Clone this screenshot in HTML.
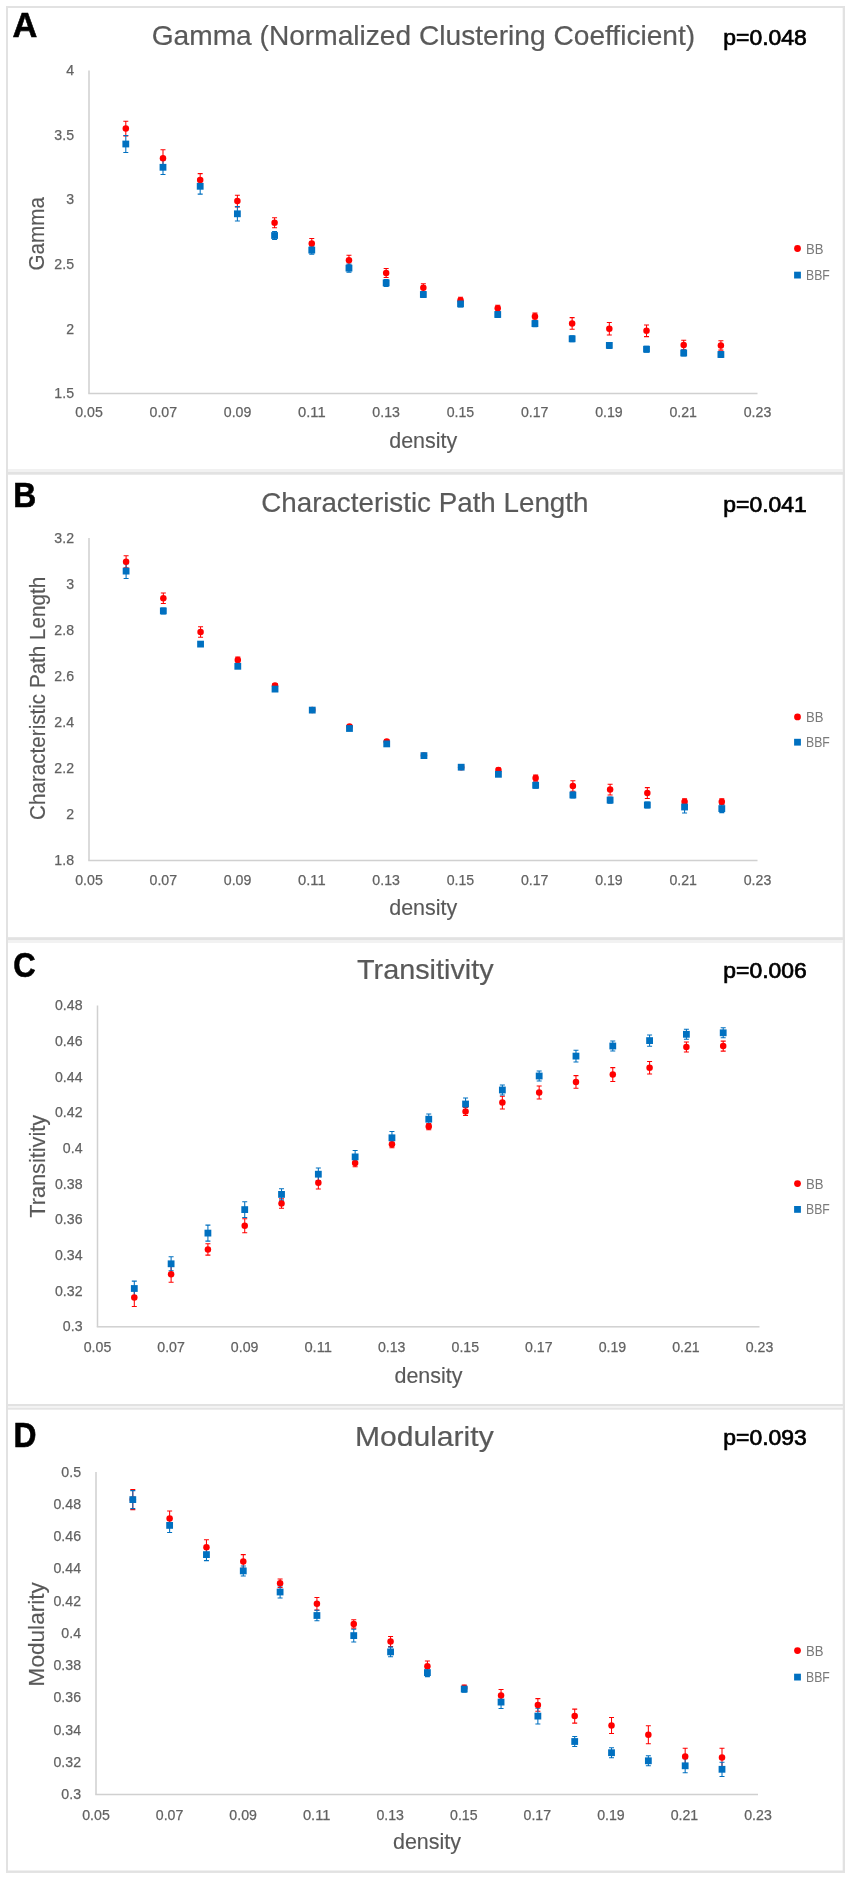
<!DOCTYPE html>
<html><head><meta charset="utf-8"><title>Figure</title>
<style>
html,body{margin:0;padding:0;background:#fff;}
body{width:851px;height:1879px;overflow:hidden;}
svg{display:block;filter:blur(0.45px);}
text{font-family:"Liberation Sans",sans-serif;}
</style></head><body>
<svg width="851" height="1879" viewBox="0 0 851 1879">
<rect x="0" y="0" width="851" height="1879" fill="#fff"/>
<rect x="6" y="6" width="2" height="1866.5" fill="#e2e2e2"/>
<rect x="842.7" y="6" width="2.3" height="1866.5" fill="#e2e2e2"/>
<rect x="6" y="6" width="839" height="2" fill="#e2e2e2"/>
<rect x="6" y="1870.5" width="839" height="2.4" fill="#e2e2e2"/>
<rect x="8" y="469" width="835" height="3" fill="#f1f1f1"/>
<rect x="8" y="472" width="835" height="2.7" fill="#e2e2e2"/>
<rect x="8" y="937.2" width="835" height="2.8" fill="#e2e2e2"/>
<rect x="8" y="940" width="835" height="3" fill="#f2f2f2"/>
<rect x="8" y="1404" width="835" height="2" fill="#e2e2e2"/>
<rect x="8" y="1406" width="835" height="1.8" fill="#f3f3f3"/>
<rect x="8" y="1407.8" width="835" height="1.9" fill="#e4e4e4"/>
<text transform="translate(12.5,37) scale(1.0,1)" x="0" y="0" font-size="34.4" font-weight="bold" fill="#000" stroke="#000" stroke-width="0.6">A</text>
<text x="151.7" y="44.6" font-size="28.3" fill="#595959" stroke="#595959" stroke-width="0.2" textLength="543.5" lengthAdjust="spacingAndGlyphs">Gamma (Normalized Clustering Coefficient)</text>
<text x="723.3" y="44.9" font-size="22" font-weight="normal" fill="#000" stroke="#000" stroke-width="0.7" textLength="83.5" lengthAdjust="spacingAndGlyphs">p=0.048</text>
<rect x="88.25" y="70.5" width="1.5" height="323.0" fill="#d0d0d0"/>
<rect x="88.25" y="392.75" width="669.25" height="1.5" fill="#d0d0d0"/>
<text x="74" y="75.1" font-size="15.2" fill="#626262" stroke="#626262" stroke-width="0.25" text-anchor="end" textLength="7.86" lengthAdjust="spacingAndGlyphs">4</text>
<text x="74" y="139.7" font-size="15.2" fill="#626262" stroke="#626262" stroke-width="0.25" text-anchor="end" textLength="19.65" lengthAdjust="spacingAndGlyphs">3.5</text>
<text x="74" y="204.29999999999998" font-size="15.2" fill="#626262" stroke="#626262" stroke-width="0.25" text-anchor="end" textLength="7.86" lengthAdjust="spacingAndGlyphs">3</text>
<text x="74" y="268.90000000000003" font-size="15.2" fill="#626262" stroke="#626262" stroke-width="0.25" text-anchor="end" textLength="19.65" lengthAdjust="spacingAndGlyphs">2.5</text>
<text x="74" y="333.5" font-size="15.2" fill="#626262" stroke="#626262" stroke-width="0.25" text-anchor="end" textLength="7.86" lengthAdjust="spacingAndGlyphs">2</text>
<text x="74" y="398.1" font-size="15.2" fill="#626262" stroke="#626262" stroke-width="0.25" text-anchor="end" textLength="19.65" lengthAdjust="spacingAndGlyphs">1.5</text>
<text x="89.0" y="417.40000000000003" font-size="15.2" fill="#626262" stroke="#626262" stroke-width="0.25" text-anchor="middle" textLength="27.51" lengthAdjust="spacingAndGlyphs">0.05</text>
<text x="163.27777777777777" y="417.40000000000003" font-size="15.2" fill="#626262" stroke="#626262" stroke-width="0.25" text-anchor="middle" textLength="27.51" lengthAdjust="spacingAndGlyphs">0.07</text>
<text x="237.55555555555554" y="417.40000000000003" font-size="15.2" fill="#626262" stroke="#626262" stroke-width="0.25" text-anchor="middle" textLength="27.51" lengthAdjust="spacingAndGlyphs">0.09</text>
<text x="311.8333333333333" y="417.40000000000003" font-size="15.2" fill="#626262" stroke="#626262" stroke-width="0.25" text-anchor="middle" textLength="27.51" lengthAdjust="spacingAndGlyphs">0.11</text>
<text x="386.1111111111111" y="417.40000000000003" font-size="15.2" fill="#626262" stroke="#626262" stroke-width="0.25" text-anchor="middle" textLength="27.51" lengthAdjust="spacingAndGlyphs">0.13</text>
<text x="460.38888888888886" y="417.40000000000003" font-size="15.2" fill="#626262" stroke="#626262" stroke-width="0.25" text-anchor="middle" textLength="27.51" lengthAdjust="spacingAndGlyphs">0.15</text>
<text x="534.6666666666666" y="417.40000000000003" font-size="15.2" fill="#626262" stroke="#626262" stroke-width="0.25" text-anchor="middle" textLength="27.51" lengthAdjust="spacingAndGlyphs">0.17</text>
<text x="608.9444444444443" y="417.40000000000003" font-size="15.2" fill="#626262" stroke="#626262" stroke-width="0.25" text-anchor="middle" textLength="27.51" lengthAdjust="spacingAndGlyphs">0.19</text>
<text x="683.2222222222222" y="417.40000000000003" font-size="15.2" fill="#626262" stroke="#626262" stroke-width="0.25" text-anchor="middle" textLength="27.51" lengthAdjust="spacingAndGlyphs">0.21</text>
<text x="757.5" y="417.40000000000003" font-size="15.2" fill="#626262" stroke="#626262" stroke-width="0.25" text-anchor="middle" textLength="27.51" lengthAdjust="spacingAndGlyphs">0.23</text>
<text x="423.25" y="447.6" font-size="22.8" fill="#595959" stroke="#595959" stroke-width="0.15" text-anchor="middle" textLength="68" lengthAdjust="spacingAndGlyphs">density</text>
<text transform="translate(43.8,233.8) rotate(-90)" x="0" y="0" font-size="22.7" fill="#595959" stroke="#595959" stroke-width="0.15" text-anchor="middle" textLength="73.4" lengthAdjust="spacingAndGlyphs">Gamma</text>
<circle cx="797.5" cy="248.5" r="3.4" fill="#ff0000"/>
<rect x="794.1" y="271.70000000000005" width="6.8" height="6.8" fill="#0070c0"/>
<text x="806" y="253.5" font-size="13.8" fill="#7a7a7a" textLength="17.5" lengthAdjust="spacingAndGlyphs">BB</text>
<text x="806" y="280.1" font-size="13.8" fill="#7a7a7a" textLength="23.8" lengthAdjust="spacingAndGlyphs">BBF</text>
<path d="M125.8 121.19999999999999V136.0M123.3 121.19999999999999H128.3M123.3 136.0H128.3" stroke="#ff0000" stroke-width="1.05" fill="none"/>
<path d="M125.8 135.5V152.5M123.3 135.5H128.3M123.3 152.5H128.3" stroke="#0070c0" stroke-width="1.05" fill="none"/>
<circle cx="125.8" cy="128.6" r="3.25" fill="#ff0000"/>
<rect x="122.39999999999999" y="140.6" width="6.8" height="6.8" fill="#0070c0"/>
<path d="M162.99375 149.7V166.7M160.49375 149.7H165.49375M160.49375 166.7H165.49375" stroke="#ff0000" stroke-width="1.05" fill="none"/>
<path d="M162.99375 160.20000000000002V174.4M160.49375 160.20000000000002H165.49375M160.49375 174.4H165.49375" stroke="#0070c0" stroke-width="1.05" fill="none"/>
<circle cx="162.99375" cy="158.2" r="3.25" fill="#ff0000"/>
<rect x="159.59375" y="163.9" width="6.8" height="6.8" fill="#0070c0"/>
<path d="M200.1875 173.6V186.4M197.6875 173.6H202.6875M197.6875 186.4H202.6875" stroke="#ff0000" stroke-width="1.05" fill="none"/>
<path d="M200.1875 178.5V194.10000000000002M197.6875 178.5H202.6875M197.6875 194.10000000000002H202.6875" stroke="#0070c0" stroke-width="1.05" fill="none"/>
<circle cx="200.1875" cy="180" r="3.25" fill="#ff0000"/>
<rect x="196.7875" y="182.9" width="6.8" height="6.8" fill="#0070c0"/>
<path d="M237.38125000000002 195.2V207.0M234.88125000000002 195.2H239.88125000000002M234.88125000000002 207.0H239.88125000000002" stroke="#ff0000" stroke-width="1.05" fill="none"/>
<path d="M237.38125000000002 206.60000000000002V221.0M234.88125000000002 206.60000000000002H239.88125000000002M234.88125000000002 221.0H239.88125000000002" stroke="#0070c0" stroke-width="1.05" fill="none"/>
<circle cx="237.38125000000002" cy="201.1" r="3.25" fill="#ff0000"/>
<rect x="233.98125000000002" y="210.4" width="6.8" height="6.8" fill="#0070c0"/>
<path d="M274.575 217.8V227.8M272.075 217.8H277.075M272.075 227.8H277.075" stroke="#ff0000" stroke-width="1.05" fill="none"/>
<path d="M274.575 231.5V239.5M272.075 231.5H277.075M272.075 239.5H277.075" stroke="#0070c0" stroke-width="1.05" fill="none"/>
<circle cx="274.575" cy="222.8" r="3.25" fill="#ff0000"/>
<rect x="271.175" y="232.1" width="6.8" height="6.8" fill="#0070c0"/>
<path d="M311.76875 238.4V248.4M309.26875 238.4H314.26875M309.26875 248.4H314.26875" stroke="#ff0000" stroke-width="1.05" fill="none"/>
<path d="M311.76875 246.1V254.1M309.26875 246.1H314.26875M309.26875 254.1H314.26875" stroke="#0070c0" stroke-width="1.05" fill="none"/>
<circle cx="311.76875" cy="243.4" r="3.25" fill="#ff0000"/>
<rect x="308.36875000000003" y="246.7" width="6.8" height="6.8" fill="#0070c0"/>
<path d="M348.96250000000003 255.3V265.3M346.46250000000003 255.3H351.46250000000003M346.46250000000003 265.3H351.46250000000003" stroke="#ff0000" stroke-width="1.05" fill="none"/>
<path d="M348.96250000000003 264.1V272.1M346.46250000000003 264.1H351.46250000000003M346.46250000000003 272.1H351.46250000000003" stroke="#0070c0" stroke-width="1.05" fill="none"/>
<circle cx="348.96250000000003" cy="260.3" r="3.25" fill="#ff0000"/>
<rect x="345.56250000000006" y="264.70000000000005" width="6.8" height="6.8" fill="#0070c0"/>
<path d="M386.15625 268.5V277.5M383.65625 268.5H388.65625M383.65625 277.5H388.65625" stroke="#ff0000" stroke-width="1.05" fill="none"/>
<path d="M386.15625 279.4V286.4M383.65625 279.4H388.65625M383.65625 286.4H388.65625" stroke="#0070c0" stroke-width="1.05" fill="none"/>
<circle cx="386.15625" cy="273" r="3.25" fill="#ff0000"/>
<rect x="382.75625" y="279.5" width="6.8" height="6.8" fill="#0070c0"/>
<path d="M423.35 283.8V291.8M420.85 283.8H425.85M420.85 291.8H425.85" stroke="#ff0000" stroke-width="1.05" fill="none"/>
<path d="M423.35 291.5V297.5M420.85 291.5H425.85M420.85 297.5H425.85" stroke="#0070c0" stroke-width="1.05" fill="none"/>
<circle cx="423.35" cy="287.8" r="3.25" fill="#ff0000"/>
<rect x="419.95000000000005" y="291.1" width="6.8" height="6.8" fill="#0070c0"/>
<path d="M460.54375000000005 297.3V303.3M458.04375000000005 297.3H463.04375000000005M458.04375000000005 303.3H463.04375000000005" stroke="#ff0000" stroke-width="1.05" fill="none"/>
<path d="M460.54375000000005 300.9V306.9M458.04375000000005 300.9H463.04375000000005M458.04375000000005 306.9H463.04375000000005" stroke="#0070c0" stroke-width="1.05" fill="none"/>
<circle cx="460.54375000000005" cy="300.3" r="3.25" fill="#ff0000"/>
<rect x="457.14375000000007" y="300.5" width="6.8" height="6.8" fill="#0070c0"/>
<path d="M497.7375 305.2V311.2M495.2375 305.2H500.2375M495.2375 311.2H500.2375" stroke="#ff0000" stroke-width="1.05" fill="none"/>
<path d="M497.7375 311.5V317.5M495.2375 311.5H500.2375M495.2375 317.5H500.2375" stroke="#0070c0" stroke-width="1.05" fill="none"/>
<circle cx="497.7375" cy="308.2" r="3.25" fill="#ff0000"/>
<rect x="494.33750000000003" y="311.1" width="6.8" height="6.8" fill="#0070c0"/>
<path d="M534.93125 313.1V320.1M532.43125 313.1H537.43125M532.43125 320.1H537.43125" stroke="#ff0000" stroke-width="1.05" fill="none"/>
<path d="M534.93125 320.6V326.6M532.43125 320.6H537.43125M532.43125 326.6H537.43125" stroke="#0070c0" stroke-width="1.05" fill="none"/>
<circle cx="534.93125" cy="316.6" r="3.25" fill="#ff0000"/>
<rect x="531.53125" y="320.20000000000005" width="6.8" height="6.8" fill="#0070c0"/>
<path d="M572.125 317.59999999999997V329.2M569.625 317.59999999999997H574.625M569.625 329.2H574.625" stroke="#ff0000" stroke-width="1.05" fill="none"/>
<path d="M572.125 335.8V341.8M569.625 335.8H574.625M569.625 341.8H574.625" stroke="#0070c0" stroke-width="1.05" fill="none"/>
<circle cx="572.125" cy="323.4" r="3.25" fill="#ff0000"/>
<rect x="568.725" y="335.40000000000003" width="6.8" height="6.8" fill="#0070c0"/>
<path d="M609.31875 322.4V335.0M606.81875 322.4H611.81875M606.81875 335.0H611.81875" stroke="#ff0000" stroke-width="1.05" fill="none"/>
<path d="M609.31875 342.4V348.4M606.81875 342.4H611.81875M606.81875 348.4H611.81875" stroke="#0070c0" stroke-width="1.05" fill="none"/>
<circle cx="609.31875" cy="328.7" r="3.25" fill="#ff0000"/>
<rect x="605.91875" y="342.0" width="6.8" height="6.8" fill="#0070c0"/>
<path d="M646.5124999999999 325.0V336.6M644.0124999999999 325.0H649.0124999999999M644.0124999999999 336.6H649.0124999999999" stroke="#ff0000" stroke-width="1.05" fill="none"/>
<path d="M646.5124999999999 346.2V352.2M644.0124999999999 346.2H649.0124999999999M644.0124999999999 352.2H649.0124999999999" stroke="#0070c0" stroke-width="1.05" fill="none"/>
<circle cx="646.5124999999999" cy="330.8" r="3.25" fill="#ff0000"/>
<rect x="643.1125" y="345.8" width="6.8" height="6.8" fill="#0070c0"/>
<path d="M683.70625 340.3V349.7M681.20625 340.3H686.20625M681.20625 349.7H686.20625" stroke="#ff0000" stroke-width="1.05" fill="none"/>
<path d="M683.70625 350V356M681.20625 350H686.20625M681.20625 356H686.20625" stroke="#0070c0" stroke-width="1.05" fill="none"/>
<circle cx="683.70625" cy="345" r="3.25" fill="#ff0000"/>
<rect x="680.30625" y="349.6" width="6.8" height="6.8" fill="#0070c0"/>
<path d="M720.9 340.7V350.09999999999997M718.4 340.7H723.4M718.4 350.09999999999997H723.4" stroke="#ff0000" stroke-width="1.05" fill="none"/>
<path d="M720.9 351.5V357.5M718.4 351.5H723.4M718.4 357.5H723.4" stroke="#0070c0" stroke-width="1.05" fill="none"/>
<circle cx="720.9" cy="345.4" r="3.25" fill="#ff0000"/>
<rect x="717.5" y="351.1" width="6.8" height="6.8" fill="#0070c0"/>
<text transform="translate(13.3,507) scale(0.925,1)" x="0" y="0" font-size="34.4" font-weight="bold" fill="#000" stroke="#000" stroke-width="0.6">B</text>
<text x="261.2" y="512.4" font-size="28.3" fill="#595959" stroke="#595959" stroke-width="0.2" textLength="327.3" lengthAdjust="spacingAndGlyphs">Characteristic Path Length</text>
<text x="723.3" y="512.2" font-size="22" font-weight="normal" fill="#000" stroke="#000" stroke-width="0.7" textLength="83.5" lengthAdjust="spacingAndGlyphs">p=0.041</text>
<rect x="88.25" y="538" width="1.5" height="322.5" fill="#d0d0d0"/>
<rect x="88.25" y="859.75" width="669.25" height="1.5" fill="#d0d0d0"/>
<text x="74" y="542.6" font-size="15.2" fill="#626262" stroke="#626262" stroke-width="0.25" text-anchor="end" textLength="19.65" lengthAdjust="spacingAndGlyphs">3.2</text>
<text x="74" y="588.6714285714286" font-size="15.2" fill="#626262" stroke="#626262" stroke-width="0.25" text-anchor="end" textLength="7.86" lengthAdjust="spacingAndGlyphs">3</text>
<text x="74" y="634.7428571428571" font-size="15.2" fill="#626262" stroke="#626262" stroke-width="0.25" text-anchor="end" textLength="19.65" lengthAdjust="spacingAndGlyphs">2.8</text>
<text x="74" y="680.8142857142858" font-size="15.2" fill="#626262" stroke="#626262" stroke-width="0.25" text-anchor="end" textLength="19.65" lengthAdjust="spacingAndGlyphs">2.6</text>
<text x="74" y="726.8857142857142" font-size="15.2" fill="#626262" stroke="#626262" stroke-width="0.25" text-anchor="end" textLength="19.65" lengthAdjust="spacingAndGlyphs">2.4</text>
<text x="74" y="772.9571428571429" font-size="15.2" fill="#626262" stroke="#626262" stroke-width="0.25" text-anchor="end" textLength="19.65" lengthAdjust="spacingAndGlyphs">2.2</text>
<text x="74" y="819.0285714285715" font-size="15.2" fill="#626262" stroke="#626262" stroke-width="0.25" text-anchor="end" textLength="7.86" lengthAdjust="spacingAndGlyphs">2</text>
<text x="74" y="865.1" font-size="15.2" fill="#626262" stroke="#626262" stroke-width="0.25" text-anchor="end" textLength="19.65" lengthAdjust="spacingAndGlyphs">1.8</text>
<text x="89.0" y="885.3" font-size="15.2" fill="#626262" stroke="#626262" stroke-width="0.25" text-anchor="middle" textLength="27.51" lengthAdjust="spacingAndGlyphs">0.05</text>
<text x="163.27777777777777" y="885.3" font-size="15.2" fill="#626262" stroke="#626262" stroke-width="0.25" text-anchor="middle" textLength="27.51" lengthAdjust="spacingAndGlyphs">0.07</text>
<text x="237.55555555555554" y="885.3" font-size="15.2" fill="#626262" stroke="#626262" stroke-width="0.25" text-anchor="middle" textLength="27.51" lengthAdjust="spacingAndGlyphs">0.09</text>
<text x="311.8333333333333" y="885.3" font-size="15.2" fill="#626262" stroke="#626262" stroke-width="0.25" text-anchor="middle" textLength="27.51" lengthAdjust="spacingAndGlyphs">0.11</text>
<text x="386.1111111111111" y="885.3" font-size="15.2" fill="#626262" stroke="#626262" stroke-width="0.25" text-anchor="middle" textLength="27.51" lengthAdjust="spacingAndGlyphs">0.13</text>
<text x="460.38888888888886" y="885.3" font-size="15.2" fill="#626262" stroke="#626262" stroke-width="0.25" text-anchor="middle" textLength="27.51" lengthAdjust="spacingAndGlyphs">0.15</text>
<text x="534.6666666666666" y="885.3" font-size="15.2" fill="#626262" stroke="#626262" stroke-width="0.25" text-anchor="middle" textLength="27.51" lengthAdjust="spacingAndGlyphs">0.17</text>
<text x="608.9444444444443" y="885.3" font-size="15.2" fill="#626262" stroke="#626262" stroke-width="0.25" text-anchor="middle" textLength="27.51" lengthAdjust="spacingAndGlyphs">0.19</text>
<text x="683.2222222222222" y="885.3" font-size="15.2" fill="#626262" stroke="#626262" stroke-width="0.25" text-anchor="middle" textLength="27.51" lengthAdjust="spacingAndGlyphs">0.21</text>
<text x="757.5" y="885.3" font-size="15.2" fill="#626262" stroke="#626262" stroke-width="0.25" text-anchor="middle" textLength="27.51" lengthAdjust="spacingAndGlyphs">0.23</text>
<text x="423.25" y="915.2" font-size="22.8" fill="#595959" stroke="#595959" stroke-width="0.15" text-anchor="middle" textLength="68" lengthAdjust="spacingAndGlyphs">density</text>
<text transform="translate(45,698.4) rotate(-90)" x="0" y="0" font-size="22.7" fill="#595959" stroke="#595959" stroke-width="0.15" text-anchor="middle" textLength="243" lengthAdjust="spacingAndGlyphs">Characteristic Path Length</text>
<circle cx="797.5" cy="716.9" r="3.4" fill="#ff0000"/>
<rect x="794.1" y="738.8000000000001" width="6.8" height="6.8" fill="#0070c0"/>
<text x="806" y="721.9" font-size="13.8" fill="#7a7a7a" textLength="17.5" lengthAdjust="spacingAndGlyphs">BB</text>
<text x="806" y="747.2" font-size="13.8" fill="#7a7a7a" textLength="23.8" lengthAdjust="spacingAndGlyphs">BBF</text>
<path d="M126.1 555.8V567.8M123.6 555.8H128.6M123.6 567.8H128.6" stroke="#ff0000" stroke-width="1.05" fill="none"/>
<path d="M126.1 563.7V578.5M123.6 563.7H128.6M123.6 578.5H128.6" stroke="#0070c0" stroke-width="1.05" fill="none"/>
<circle cx="126.1" cy="561.8" r="3.25" fill="#ff0000"/>
<rect x="122.69999999999999" y="567.7" width="6.8" height="6.8" fill="#0070c0"/>
<path d="M163.33124999999998 592.9000000000001V603.5M160.83124999999998 592.9000000000001H165.83124999999998M160.83124999999998 603.5H165.83124999999998" stroke="#ff0000" stroke-width="1.05" fill="none"/>
<path d="M163.33124999999998 607.9V613.9M160.83124999999998 607.9H165.83124999999998M160.83124999999998 613.9H165.83124999999998" stroke="#0070c0" stroke-width="1.05" fill="none"/>
<circle cx="163.33124999999998" cy="598.2" r="3.25" fill="#ff0000"/>
<rect x="159.93124999999998" y="607.5" width="6.8" height="6.8" fill="#0070c0"/>
<path d="M200.5625 626.7V637.3M198.0625 626.7H203.0625M198.0625 637.3H203.0625" stroke="#ff0000" stroke-width="1.05" fill="none"/>
<path d="M200.5625 642.1V646.1M198.0625 642.1H203.0625M198.0625 646.1H203.0625" stroke="#0070c0" stroke-width="1.05" fill="none"/>
<circle cx="200.5625" cy="632" r="3.25" fill="#ff0000"/>
<rect x="197.1625" y="640.7" width="6.8" height="6.8" fill="#0070c0"/>
<path d="M237.79375 657.1V663.1M235.29375 657.1H240.29375M235.29375 663.1H240.29375" stroke="#ff0000" stroke-width="1.05" fill="none"/>
<path d="M237.79375 664.3V668.3M235.29375 664.3H240.29375M235.29375 668.3H240.29375" stroke="#0070c0" stroke-width="1.05" fill="none"/>
<circle cx="237.79375" cy="660.1" r="3.25" fill="#ff0000"/>
<rect x="234.39374999999998" y="662.9" width="6.8" height="6.8" fill="#0070c0"/>
<path d="M275.025 683.5V687.5M272.525 683.5H277.525M272.525 687.5H277.525" stroke="#ff0000" stroke-width="1.05" fill="none"/>
<path d="M275.025 687.1V691.1M272.525 687.1H277.525M272.525 691.1H277.525" stroke="#0070c0" stroke-width="1.05" fill="none"/>
<circle cx="275.025" cy="685.5" r="3.25" fill="#ff0000"/>
<rect x="271.625" y="685.7" width="6.8" height="6.8" fill="#0070c0"/>
<path d="M312.25624999999997 708V712M309.75624999999997 708H314.75624999999997M309.75624999999997 712H314.75624999999997" stroke="#ff0000" stroke-width="1.05" fill="none"/>
<path d="M312.25624999999997 708.1V712.1M309.75624999999997 708.1H314.75624999999997M309.75624999999997 712.1H314.75624999999997" stroke="#0070c0" stroke-width="1.05" fill="none"/>
<circle cx="312.25624999999997" cy="710" r="3.25" fill="#ff0000"/>
<rect x="308.85625" y="706.7" width="6.8" height="6.8" fill="#0070c0"/>
<path d="M349.48749999999995 724.5V728.5M346.98749999999995 724.5H351.98749999999995M346.98749999999995 728.5H351.98749999999995" stroke="#ff0000" stroke-width="1.05" fill="none"/>
<path d="M349.48749999999995 726.5V730.5M346.98749999999995 726.5H351.98749999999995M346.98749999999995 730.5H351.98749999999995" stroke="#0070c0" stroke-width="1.05" fill="none"/>
<circle cx="349.48749999999995" cy="726.5" r="3.25" fill="#ff0000"/>
<rect x="346.0875" y="725.1" width="6.8" height="6.8" fill="#0070c0"/>
<path d="M386.71875 739.5V743.5M384.21875 739.5H389.21875M384.21875 743.5H389.21875" stroke="#ff0000" stroke-width="1.05" fill="none"/>
<path d="M386.71875 741.9V745.9M384.21875 741.9H389.21875M384.21875 745.9H389.21875" stroke="#0070c0" stroke-width="1.05" fill="none"/>
<circle cx="386.71875" cy="741.5" r="3.25" fill="#ff0000"/>
<rect x="383.31875" y="740.5" width="6.8" height="6.8" fill="#0070c0"/>
<path d="M423.94999999999993 753.6V757.6M421.44999999999993 753.6H426.44999999999993M421.44999999999993 757.6H426.44999999999993" stroke="#ff0000" stroke-width="1.05" fill="none"/>
<path d="M423.94999999999993 753.6V757.6M421.44999999999993 753.6H426.44999999999993M421.44999999999993 757.6H426.44999999999993" stroke="#0070c0" stroke-width="1.05" fill="none"/>
<circle cx="423.94999999999993" cy="755.6" r="3.25" fill="#ff0000"/>
<rect x="420.54999999999995" y="752.2" width="6.8" height="6.8" fill="#0070c0"/>
<path d="M461.18125 765.2V769.2M458.68125 765.2H463.68125M458.68125 769.2H463.68125" stroke="#ff0000" stroke-width="1.05" fill="none"/>
<path d="M461.18125 765.2V769.2M458.68125 765.2H463.68125M458.68125 769.2H463.68125" stroke="#0070c0" stroke-width="1.05" fill="none"/>
<circle cx="461.18125" cy="767.2" r="3.25" fill="#ff0000"/>
<rect x="457.78125" y="763.8000000000001" width="6.8" height="6.8" fill="#0070c0"/>
<path d="M498.4124999999999 768V772M495.9124999999999 768H500.9124999999999M495.9124999999999 772H500.9124999999999" stroke="#ff0000" stroke-width="1.05" fill="none"/>
<path d="M498.4124999999999 772.3V776.3M495.9124999999999 772.3H500.9124999999999M495.9124999999999 776.3H500.9124999999999" stroke="#0070c0" stroke-width="1.05" fill="none"/>
<circle cx="498.4124999999999" cy="770" r="3.25" fill="#ff0000"/>
<rect x="495.01249999999993" y="770.9" width="6.8" height="6.8" fill="#0070c0"/>
<path d="M535.64375 775.1V781.1M533.14375 775.1H538.14375M533.14375 781.1H538.14375" stroke="#ff0000" stroke-width="1.05" fill="none"/>
<path d="M535.64375 782.3V788.3M533.14375 782.3H538.14375M533.14375 788.3H538.14375" stroke="#0070c0" stroke-width="1.05" fill="none"/>
<circle cx="535.64375" cy="778.1" r="3.25" fill="#ff0000"/>
<rect x="532.24375" y="781.9" width="6.8" height="6.8" fill="#0070c0"/>
<path d="M572.875 780.7V791.3M570.375 780.7H575.375M570.375 791.3H575.375" stroke="#ff0000" stroke-width="1.05" fill="none"/>
<path d="M572.875 792V798M570.375 792H575.375M570.375 798H575.375" stroke="#0070c0" stroke-width="1.05" fill="none"/>
<circle cx="572.875" cy="786" r="3.25" fill="#ff0000"/>
<rect x="569.475" y="791.6" width="6.8" height="6.8" fill="#0070c0"/>
<path d="M610.1062499999999 784.3000000000001V794.9M607.6062499999999 784.3000000000001H612.6062499999999M607.6062499999999 794.9H612.6062499999999" stroke="#ff0000" stroke-width="1.05" fill="none"/>
<path d="M610.1062499999999 797.1V803.1M607.6062499999999 797.1H612.6062499999999M607.6062499999999 803.1H612.6062499999999" stroke="#0070c0" stroke-width="1.05" fill="none"/>
<circle cx="610.1062499999999" cy="789.6" r="3.25" fill="#ff0000"/>
<rect x="606.70625" y="796.7" width="6.8" height="6.8" fill="#0070c0"/>
<path d="M647.3375 787.6V798.4M644.8375 787.6H649.8375M644.8375 798.4H649.8375" stroke="#ff0000" stroke-width="1.05" fill="none"/>
<path d="M647.3375 802V808M644.8375 802H649.8375M644.8375 808H649.8375" stroke="#0070c0" stroke-width="1.05" fill="none"/>
<circle cx="647.3375" cy="793" r="3.25" fill="#ff0000"/>
<rect x="643.9375" y="801.6" width="6.8" height="6.8" fill="#0070c0"/>
<path d="M684.5687499999999 798.7V804.7M682.0687499999999 798.7H687.0687499999999M682.0687499999999 804.7H687.0687499999999" stroke="#ff0000" stroke-width="1.05" fill="none"/>
<path d="M684.5687499999999 801V813M682.0687499999999 801H687.0687499999999M682.0687499999999 813H687.0687499999999" stroke="#0070c0" stroke-width="1.05" fill="none"/>
<circle cx="684.5687499999999" cy="801.7" r="3.25" fill="#ff0000"/>
<rect x="681.1687499999999" y="803.6" width="6.8" height="6.8" fill="#0070c0"/>
<path d="M721.8 798.7V804.7M719.3 798.7H724.3M719.3 804.7H724.3" stroke="#ff0000" stroke-width="1.05" fill="none"/>
<path d="M721.8 804.6V812.6M719.3 804.6H724.3M719.3 812.6H724.3" stroke="#0070c0" stroke-width="1.05" fill="none"/>
<circle cx="721.8" cy="801.7" r="3.25" fill="#ff0000"/>
<rect x="718.4" y="805.2" width="6.8" height="6.8" fill="#0070c0"/>
<text transform="translate(13.2,977) scale(0.9,1)" x="0" y="0" font-size="34.4" font-weight="bold" fill="#000" stroke="#000" stroke-width="0.6">C</text>
<text x="357" y="978.8" font-size="28.3" fill="#595959" stroke="#595959" stroke-width="0.2" textLength="136.7" lengthAdjust="spacingAndGlyphs">Transitivity</text>
<text x="723.3" y="978.3" font-size="22" font-weight="normal" fill="#000" stroke="#000" stroke-width="0.7" textLength="83.5" lengthAdjust="spacingAndGlyphs">p=0.006</text>
<rect x="96.75" y="1005.5" width="1.5" height="321.29999999999995" fill="#d0d0d0"/>
<rect x="96.75" y="1326.05" width="662.75" height="1.5" fill="#d0d0d0"/>
<text x="82.5" y="1010.1" font-size="15.2" fill="#626262" stroke="#626262" stroke-width="0.25" text-anchor="end" textLength="27.51" lengthAdjust="spacingAndGlyphs">0.48</text>
<text x="82.5" y="1045.8" font-size="15.2" fill="#626262" stroke="#626262" stroke-width="0.25" text-anchor="end" textLength="27.51" lengthAdjust="spacingAndGlyphs">0.46</text>
<text x="82.5" y="1081.5" font-size="15.2" fill="#626262" stroke="#626262" stroke-width="0.25" text-anchor="end" textLength="27.51" lengthAdjust="spacingAndGlyphs">0.44</text>
<text x="82.5" y="1117.1999999999998" font-size="15.2" fill="#626262" stroke="#626262" stroke-width="0.25" text-anchor="end" textLength="27.51" lengthAdjust="spacingAndGlyphs">0.42</text>
<text x="82.5" y="1152.8999999999999" font-size="15.2" fill="#626262" stroke="#626262" stroke-width="0.25" text-anchor="end" textLength="19.65" lengthAdjust="spacingAndGlyphs">0.4</text>
<text x="82.5" y="1188.6" font-size="15.2" fill="#626262" stroke="#626262" stroke-width="0.25" text-anchor="end" textLength="27.51" lengthAdjust="spacingAndGlyphs">0.38</text>
<text x="82.5" y="1224.3" font-size="15.2" fill="#626262" stroke="#626262" stroke-width="0.25" text-anchor="end" textLength="27.51" lengthAdjust="spacingAndGlyphs">0.36</text>
<text x="82.5" y="1259.9999999999998" font-size="15.2" fill="#626262" stroke="#626262" stroke-width="0.25" text-anchor="end" textLength="27.51" lengthAdjust="spacingAndGlyphs">0.34</text>
<text x="82.5" y="1295.6999999999998" font-size="15.2" fill="#626262" stroke="#626262" stroke-width="0.25" text-anchor="end" textLength="27.51" lengthAdjust="spacingAndGlyphs">0.32</text>
<text x="82.5" y="1331.3999999999999" font-size="15.2" fill="#626262" stroke="#626262" stroke-width="0.25" text-anchor="end" textLength="19.65" lengthAdjust="spacingAndGlyphs">0.3</text>
<text x="97.5" y="1351.8" font-size="15.2" fill="#626262" stroke="#626262" stroke-width="0.25" text-anchor="middle" textLength="27.51" lengthAdjust="spacingAndGlyphs">0.05</text>
<text x="171.05555555555554" y="1351.8" font-size="15.2" fill="#626262" stroke="#626262" stroke-width="0.25" text-anchor="middle" textLength="27.51" lengthAdjust="spacingAndGlyphs">0.07</text>
<text x="244.61111111111111" y="1351.8" font-size="15.2" fill="#626262" stroke="#626262" stroke-width="0.25" text-anchor="middle" textLength="27.51" lengthAdjust="spacingAndGlyphs">0.09</text>
<text x="318.1666666666667" y="1351.8" font-size="15.2" fill="#626262" stroke="#626262" stroke-width="0.25" text-anchor="middle" textLength="27.51" lengthAdjust="spacingAndGlyphs">0.11</text>
<text x="391.72222222222223" y="1351.8" font-size="15.2" fill="#626262" stroke="#626262" stroke-width="0.25" text-anchor="middle" textLength="27.51" lengthAdjust="spacingAndGlyphs">0.13</text>
<text x="465.27777777777777" y="1351.8" font-size="15.2" fill="#626262" stroke="#626262" stroke-width="0.25" text-anchor="middle" textLength="27.51" lengthAdjust="spacingAndGlyphs">0.15</text>
<text x="538.8333333333334" y="1351.8" font-size="15.2" fill="#626262" stroke="#626262" stroke-width="0.25" text-anchor="middle" textLength="27.51" lengthAdjust="spacingAndGlyphs">0.17</text>
<text x="612.3888888888889" y="1351.8" font-size="15.2" fill="#626262" stroke="#626262" stroke-width="0.25" text-anchor="middle" textLength="27.51" lengthAdjust="spacingAndGlyphs">0.19</text>
<text x="685.9444444444445" y="1351.8" font-size="15.2" fill="#626262" stroke="#626262" stroke-width="0.25" text-anchor="middle" textLength="27.51" lengthAdjust="spacingAndGlyphs">0.21</text>
<text x="759.5" y="1351.8" font-size="15.2" fill="#626262" stroke="#626262" stroke-width="0.25" text-anchor="middle" textLength="27.51" lengthAdjust="spacingAndGlyphs">0.23</text>
<text x="428.5" y="1382.9" font-size="22.8" fill="#595959" stroke="#595959" stroke-width="0.15" text-anchor="middle" textLength="68" lengthAdjust="spacingAndGlyphs">density</text>
<text transform="translate(45,1166.3) rotate(-90)" x="0" y="0" font-size="22.7" fill="#595959" stroke="#595959" stroke-width="0.15" text-anchor="middle" textLength="103" lengthAdjust="spacingAndGlyphs">Transitivity</text>
<circle cx="797.5" cy="1183.6" r="3.4" fill="#ff0000"/>
<rect x="794.1" y="1206.0" width="6.8" height="6.8" fill="#0070c0"/>
<text x="806" y="1188.6" font-size="13.8" fill="#7a7a7a" textLength="17.5" lengthAdjust="spacingAndGlyphs">BB</text>
<text x="806" y="1214.4" font-size="13.8" fill="#7a7a7a" textLength="23.8" lengthAdjust="spacingAndGlyphs">BBF</text>
<path d="M134.3 1288.3000000000002V1306.5M131.8 1288.3000000000002H136.8M131.8 1306.5H136.8" stroke="#ff0000" stroke-width="1.05" fill="none"/>
<path d="M134.3 1281.1V1295.9M131.8 1281.1H136.8M131.8 1295.9H136.8" stroke="#0070c0" stroke-width="1.05" fill="none"/>
<circle cx="134.3" cy="1297.4" r="3.25" fill="#ff0000"/>
<rect x="130.9" y="1285.1" width="6.8" height="6.8" fill="#0070c0"/>
<path d="M171.10625000000002 1266.2V1282.2M168.60625000000002 1266.2H173.60625000000002M168.60625000000002 1282.2H173.60625000000002" stroke="#ff0000" stroke-width="1.05" fill="none"/>
<path d="M171.10625000000002 1256.8V1270.8M168.60625000000002 1256.8H173.60625000000002M168.60625000000002 1270.8H173.60625000000002" stroke="#0070c0" stroke-width="1.05" fill="none"/>
<circle cx="171.10625000000002" cy="1274.2" r="3.25" fill="#ff0000"/>
<rect x="167.70625" y="1260.3999999999999" width="6.8" height="6.8" fill="#0070c0"/>
<path d="M207.91250000000002 1243.7V1255.1000000000001M205.41250000000002 1243.7H210.41250000000002M205.41250000000002 1255.1000000000001H210.41250000000002" stroke="#ff0000" stroke-width="1.05" fill="none"/>
<path d="M207.91250000000002 1225.1V1241.1M205.41250000000002 1225.1H210.41250000000002M205.41250000000002 1241.1H210.41250000000002" stroke="#0070c0" stroke-width="1.05" fill="none"/>
<circle cx="207.91250000000002" cy="1249.4" r="3.25" fill="#ff0000"/>
<rect x="204.51250000000002" y="1229.6999999999998" width="6.8" height="6.8" fill="#0070c0"/>
<path d="M244.71875000000003 1218.7V1232.7M242.21875000000003 1218.7H247.21875000000003M242.21875000000003 1232.7H247.21875000000003" stroke="#ff0000" stroke-width="1.05" fill="none"/>
<path d="M244.71875000000003 1201.8V1217.3999999999999M242.21875000000003 1201.8H247.21875000000003M242.21875000000003 1217.3999999999999H247.21875000000003" stroke="#0070c0" stroke-width="1.05" fill="none"/>
<circle cx="244.71875000000003" cy="1225.7" r="3.25" fill="#ff0000"/>
<rect x="241.31875000000002" y="1206.1999999999998" width="6.8" height="6.8" fill="#0070c0"/>
<path d="M281.52500000000003 1198.8V1208.2M279.02500000000003 1198.8H284.02500000000003M279.02500000000003 1208.2H284.02500000000003" stroke="#ff0000" stroke-width="1.05" fill="none"/>
<path d="M281.52500000000003 1188.7V1200.1000000000001M279.02500000000003 1188.7H284.02500000000003M279.02500000000003 1200.1000000000001H284.02500000000003" stroke="#0070c0" stroke-width="1.05" fill="none"/>
<circle cx="281.52500000000003" cy="1203.5" r="3.25" fill="#ff0000"/>
<rect x="278.12500000000006" y="1191.0" width="6.8" height="6.8" fill="#0070c0"/>
<path d="M318.33125000000007 1176.4V1189.0M315.83125000000007 1176.4H320.83125000000007M315.83125000000007 1189.0H320.83125000000007" stroke="#ff0000" stroke-width="1.05" fill="none"/>
<path d="M318.33125000000007 1167.9V1180.5M315.83125000000007 1167.9H320.83125000000007M315.83125000000007 1180.5H320.83125000000007" stroke="#0070c0" stroke-width="1.05" fill="none"/>
<circle cx="318.33125000000007" cy="1182.7" r="3.25" fill="#ff0000"/>
<rect x="314.9312500000001" y="1170.8" width="6.8" height="6.8" fill="#0070c0"/>
<path d="M355.13750000000005 1159.2V1166.8M352.63750000000005 1159.2H357.63750000000005M352.63750000000005 1166.8H357.63750000000005" stroke="#ff0000" stroke-width="1.05" fill="none"/>
<path d="M355.13750000000005 1150.5V1163.3000000000002M352.63750000000005 1150.5H357.63750000000005M352.63750000000005 1163.3000000000002H357.63750000000005" stroke="#0070c0" stroke-width="1.05" fill="none"/>
<circle cx="355.13750000000005" cy="1163" r="3.25" fill="#ff0000"/>
<rect x="351.73750000000007" y="1153.5" width="6.8" height="6.8" fill="#0070c0"/>
<path d="M391.9437500000001 1140.6000000000001V1147.8M389.4437500000001 1140.6000000000001H394.4437500000001M389.4437500000001 1147.8H394.4437500000001" stroke="#ff0000" stroke-width="1.05" fill="none"/>
<path d="M391.9437500000001 1131.5V1144.1M389.4437500000001 1131.5H394.4437500000001M389.4437500000001 1144.1H394.4437500000001" stroke="#0070c0" stroke-width="1.05" fill="none"/>
<circle cx="391.9437500000001" cy="1144.2" r="3.25" fill="#ff0000"/>
<rect x="388.5437500000001" y="1134.3999999999999" width="6.8" height="6.8" fill="#0070c0"/>
<path d="M428.75000000000006 1123.3999999999999V1129.8M426.25000000000006 1123.3999999999999H431.25000000000006M426.25000000000006 1129.8H431.25000000000006" stroke="#ff0000" stroke-width="1.05" fill="none"/>
<path d="M428.75000000000006 1113.9V1124.5M426.25000000000006 1113.9H431.25000000000006M426.25000000000006 1124.5H431.25000000000006" stroke="#0070c0" stroke-width="1.05" fill="none"/>
<circle cx="428.75000000000006" cy="1126.6" r="3.25" fill="#ff0000"/>
<rect x="425.3500000000001" y="1115.8" width="6.8" height="6.8" fill="#0070c0"/>
<path d="M465.55625000000003 1107.4V1115.4M463.05625000000003 1107.4H468.05625000000003M463.05625000000003 1115.4H468.05625000000003" stroke="#ff0000" stroke-width="1.05" fill="none"/>
<path d="M465.55625000000003 1098V1110M463.05625000000003 1098H468.05625000000003M463.05625000000003 1110H468.05625000000003" stroke="#0070c0" stroke-width="1.05" fill="none"/>
<circle cx="465.55625000000003" cy="1111.4" r="3.25" fill="#ff0000"/>
<rect x="462.15625000000006" y="1100.6" width="6.8" height="6.8" fill="#0070c0"/>
<path d="M502.36250000000007 1096.3V1108.8999999999999M499.86250000000007 1096.3H504.86250000000007M499.86250000000007 1108.8999999999999H504.86250000000007" stroke="#ff0000" stroke-width="1.05" fill="none"/>
<path d="M502.36250000000007 1085V1095M499.86250000000007 1085H504.86250000000007M499.86250000000007 1095H504.86250000000007" stroke="#0070c0" stroke-width="1.05" fill="none"/>
<circle cx="502.36250000000007" cy="1102.6" r="3.25" fill="#ff0000"/>
<rect x="498.9625000000001" y="1086.6" width="6.8" height="6.8" fill="#0070c0"/>
<path d="M539.16875 1086.0V1099.0M536.66875 1086.0H541.66875M536.66875 1099.0H541.66875" stroke="#ff0000" stroke-width="1.05" fill="none"/>
<path d="M539.16875 1071V1081M536.66875 1071H541.66875M536.66875 1081H541.66875" stroke="#0070c0" stroke-width="1.05" fill="none"/>
<circle cx="539.16875" cy="1092.5" r="3.25" fill="#ff0000"/>
<rect x="535.7687500000001" y="1072.6" width="6.8" height="6.8" fill="#0070c0"/>
<path d="M575.9750000000001 1075.6000000000001V1088.2M573.4750000000001 1075.6000000000001H578.4750000000001M573.4750000000001 1088.2H578.4750000000001" stroke="#ff0000" stroke-width="1.05" fill="none"/>
<path d="M575.9750000000001 1050.3V1061.8999999999999M573.4750000000001 1050.3H578.4750000000001M573.4750000000001 1061.8999999999999H578.4750000000001" stroke="#0070c0" stroke-width="1.05" fill="none"/>
<circle cx="575.9750000000001" cy="1081.9" r="3.25" fill="#ff0000"/>
<rect x="572.5750000000002" y="1052.6999999999998" width="6.8" height="6.8" fill="#0070c0"/>
<path d="M612.78125 1067.6V1081.4M610.28125 1067.6H615.28125M610.28125 1081.4H615.28125" stroke="#ff0000" stroke-width="1.05" fill="none"/>
<path d="M612.78125 1041V1051M610.28125 1041H615.28125M610.28125 1051H615.28125" stroke="#0070c0" stroke-width="1.05" fill="none"/>
<circle cx="612.78125" cy="1074.5" r="3.25" fill="#ff0000"/>
<rect x="609.38125" y="1042.6" width="6.8" height="6.8" fill="#0070c0"/>
<path d="M649.5875000000001 1061.4V1074.0M647.0875000000001 1061.4H652.0875000000001M647.0875000000001 1074.0H652.0875000000001" stroke="#ff0000" stroke-width="1.05" fill="none"/>
<path d="M649.5875000000001 1034.8999999999999V1046.3M647.0875000000001 1034.8999999999999H652.0875000000001M647.0875000000001 1046.3H652.0875000000001" stroke="#0070c0" stroke-width="1.05" fill="none"/>
<circle cx="649.5875000000001" cy="1067.7" r="3.25" fill="#ff0000"/>
<rect x="646.1875000000001" y="1037.1999999999998" width="6.8" height="6.8" fill="#0070c0"/>
<path d="M686.3937500000002 1042V1052M683.8937500000002 1042H688.8937500000002M683.8937500000002 1052H688.8937500000002" stroke="#ff0000" stroke-width="1.05" fill="none"/>
<path d="M686.3937500000002 1029.3V1039.3M683.8937500000002 1029.3H688.8937500000002M683.8937500000002 1039.3H688.8937500000002" stroke="#0070c0" stroke-width="1.05" fill="none"/>
<circle cx="686.3937500000002" cy="1047" r="3.25" fill="#ff0000"/>
<rect x="682.9937500000002" y="1030.8999999999999" width="6.8" height="6.8" fill="#0070c0"/>
<path d="M723.2 1041.1V1051.1M720.7 1041.1H725.7M720.7 1051.1H725.7" stroke="#ff0000" stroke-width="1.05" fill="none"/>
<path d="M723.2 1027.8V1037.8M720.7 1027.8H725.7M720.7 1037.8H725.7" stroke="#0070c0" stroke-width="1.05" fill="none"/>
<circle cx="723.2" cy="1046.1" r="3.25" fill="#ff0000"/>
<rect x="719.8000000000001" y="1029.3999999999999" width="6.8" height="6.8" fill="#0070c0"/>
<text transform="translate(13.4,1447) scale(0.925,1)" x="0" y="0" font-size="34.4" font-weight="bold" fill="#000" stroke="#000" stroke-width="0.6">D</text>
<text x="354.9" y="1445.7" font-size="28.3" fill="#595959" stroke="#595959" stroke-width="0.2" textLength="138.8" lengthAdjust="spacingAndGlyphs">Modularity</text>
<text x="723.3" y="1444.8" font-size="22" font-weight="normal" fill="#000" stroke="#000" stroke-width="0.7" textLength="83.5" lengthAdjust="spacingAndGlyphs">p=0.093</text>
<rect x="95.25" y="1472" width="1.5" height="322.5" fill="#d0d0d0"/>
<rect x="95.25" y="1793.75" width="662.75" height="1.5" fill="#d0d0d0"/>
<text x="81" y="1476.6" font-size="15.2" fill="#626262" stroke="#626262" stroke-width="0.25" text-anchor="end" textLength="19.65" lengthAdjust="spacingAndGlyphs">0.5</text>
<text x="81" y="1508.85" font-size="15.2" fill="#626262" stroke="#626262" stroke-width="0.25" text-anchor="end" textLength="27.51" lengthAdjust="spacingAndGlyphs">0.48</text>
<text x="81" y="1541.1" font-size="15.2" fill="#626262" stroke="#626262" stroke-width="0.25" text-anchor="end" textLength="27.51" lengthAdjust="spacingAndGlyphs">0.46</text>
<text x="81" y="1573.35" font-size="15.2" fill="#626262" stroke="#626262" stroke-width="0.25" text-anchor="end" textLength="27.51" lengthAdjust="spacingAndGlyphs">0.44</text>
<text x="81" y="1605.6" font-size="15.2" fill="#626262" stroke="#626262" stroke-width="0.25" text-anchor="end" textLength="27.51" lengthAdjust="spacingAndGlyphs">0.42</text>
<text x="81" y="1637.85" font-size="15.2" fill="#626262" stroke="#626262" stroke-width="0.25" text-anchor="end" textLength="19.65" lengthAdjust="spacingAndGlyphs">0.4</text>
<text x="81" y="1670.1" font-size="15.2" fill="#626262" stroke="#626262" stroke-width="0.25" text-anchor="end" textLength="27.51" lengthAdjust="spacingAndGlyphs">0.38</text>
<text x="81" y="1702.35" font-size="15.2" fill="#626262" stroke="#626262" stroke-width="0.25" text-anchor="end" textLength="27.51" lengthAdjust="spacingAndGlyphs">0.36</text>
<text x="81" y="1734.6" font-size="15.2" fill="#626262" stroke="#626262" stroke-width="0.25" text-anchor="end" textLength="27.51" lengthAdjust="spacingAndGlyphs">0.34</text>
<text x="81" y="1766.85" font-size="15.2" fill="#626262" stroke="#626262" stroke-width="0.25" text-anchor="end" textLength="27.51" lengthAdjust="spacingAndGlyphs">0.32</text>
<text x="81" y="1799.1" font-size="15.2" fill="#626262" stroke="#626262" stroke-width="0.25" text-anchor="end" textLength="19.65" lengthAdjust="spacingAndGlyphs">0.3</text>
<text x="96.0" y="1819.5" font-size="15.2" fill="#626262" stroke="#626262" stroke-width="0.25" text-anchor="middle" textLength="27.51" lengthAdjust="spacingAndGlyphs">0.05</text>
<text x="169.55555555555554" y="1819.5" font-size="15.2" fill="#626262" stroke="#626262" stroke-width="0.25" text-anchor="middle" textLength="27.51" lengthAdjust="spacingAndGlyphs">0.07</text>
<text x="243.11111111111111" y="1819.5" font-size="15.2" fill="#626262" stroke="#626262" stroke-width="0.25" text-anchor="middle" textLength="27.51" lengthAdjust="spacingAndGlyphs">0.09</text>
<text x="316.6666666666667" y="1819.5" font-size="15.2" fill="#626262" stroke="#626262" stroke-width="0.25" text-anchor="middle" textLength="27.51" lengthAdjust="spacingAndGlyphs">0.11</text>
<text x="390.22222222222223" y="1819.5" font-size="15.2" fill="#626262" stroke="#626262" stroke-width="0.25" text-anchor="middle" textLength="27.51" lengthAdjust="spacingAndGlyphs">0.13</text>
<text x="463.77777777777777" y="1819.5" font-size="15.2" fill="#626262" stroke="#626262" stroke-width="0.25" text-anchor="middle" textLength="27.51" lengthAdjust="spacingAndGlyphs">0.15</text>
<text x="537.3333333333334" y="1819.5" font-size="15.2" fill="#626262" stroke="#626262" stroke-width="0.25" text-anchor="middle" textLength="27.51" lengthAdjust="spacingAndGlyphs">0.17</text>
<text x="610.8888888888889" y="1819.5" font-size="15.2" fill="#626262" stroke="#626262" stroke-width="0.25" text-anchor="middle" textLength="27.51" lengthAdjust="spacingAndGlyphs">0.19</text>
<text x="684.4444444444445" y="1819.5" font-size="15.2" fill="#626262" stroke="#626262" stroke-width="0.25" text-anchor="middle" textLength="27.51" lengthAdjust="spacingAndGlyphs">0.21</text>
<text x="758.0" y="1819.5" font-size="15.2" fill="#626262" stroke="#626262" stroke-width="0.25" text-anchor="middle" textLength="27.51" lengthAdjust="spacingAndGlyphs">0.23</text>
<text x="427.0" y="1849.4" font-size="22.8" fill="#595959" stroke="#595959" stroke-width="0.15" text-anchor="middle" textLength="68" lengthAdjust="spacingAndGlyphs">density</text>
<text transform="translate(44,1634.3) rotate(-90)" x="0" y="0" font-size="22.7" fill="#595959" stroke="#595959" stroke-width="0.15" text-anchor="middle" textLength="104.2" lengthAdjust="spacingAndGlyphs">Modularity</text>
<circle cx="797.5" cy="1650.6" r="3.4" fill="#ff0000"/>
<rect x="794.1" y="1673.6999999999998" width="6.8" height="6.8" fill="#0070c0"/>
<text x="806" y="1655.6" font-size="13.8" fill="#7a7a7a" textLength="17.5" lengthAdjust="spacingAndGlyphs">BB</text>
<text x="806" y="1682.1" font-size="13.8" fill="#7a7a7a" textLength="23.8" lengthAdjust="spacingAndGlyphs">BBF</text>
<path d="M132.8 1489.6V1509.6M130.3 1489.6H135.3M130.3 1509.6H135.3" stroke="#ff0000" stroke-width="1.05" fill="none"/>
<path d="M132.8 1490.6V1508.6M130.3 1490.6H135.3M130.3 1508.6H135.3" stroke="#0070c0" stroke-width="1.05" fill="none"/>
<circle cx="132.8" cy="1499.6" r="3.25" fill="#ff0000"/>
<rect x="129.4" y="1496.1999999999998" width="6.8" height="6.8" fill="#0070c0"/>
<path d="M169.625 1511.0V1526.1999999999998M167.125 1511.0H172.125M167.125 1526.1999999999998H172.125" stroke="#ff0000" stroke-width="1.05" fill="none"/>
<path d="M169.625 1518.4V1532.4M167.125 1518.4H172.125M167.125 1532.4H172.125" stroke="#0070c0" stroke-width="1.05" fill="none"/>
<circle cx="169.625" cy="1518.6" r="3.25" fill="#ff0000"/>
<rect x="166.225" y="1522.0" width="6.8" height="6.8" fill="#0070c0"/>
<path d="M206.45000000000002 1539.8V1554.6000000000001M203.95000000000002 1539.8H208.95000000000002M203.95000000000002 1554.6000000000001H208.95000000000002" stroke="#ff0000" stroke-width="1.05" fill="none"/>
<path d="M206.45000000000002 1548.6V1560.6M203.95000000000002 1548.6H208.95000000000002M203.95000000000002 1560.6H208.95000000000002" stroke="#0070c0" stroke-width="1.05" fill="none"/>
<circle cx="206.45000000000002" cy="1547.2" r="3.25" fill="#ff0000"/>
<rect x="203.05" y="1551.1999999999998" width="6.8" height="6.8" fill="#0070c0"/>
<path d="M243.27500000000003 1554.6000000000001V1568.2M240.77500000000003 1554.6000000000001H245.77500000000003M240.77500000000003 1568.2H245.77500000000003" stroke="#ff0000" stroke-width="1.05" fill="none"/>
<path d="M243.27500000000003 1565.9V1575.9M240.77500000000003 1565.9H245.77500000000003M240.77500000000003 1575.9H245.77500000000003" stroke="#0070c0" stroke-width="1.05" fill="none"/>
<circle cx="243.27500000000003" cy="1561.4" r="3.25" fill="#ff0000"/>
<rect x="239.87500000000003" y="1567.5" width="6.8" height="6.8" fill="#0070c0"/>
<path d="M280.1 1578.9V1587.5M277.6 1578.9H282.6M277.6 1587.5H282.6" stroke="#ff0000" stroke-width="1.05" fill="none"/>
<path d="M280.1 1586V1598M277.6 1586H282.6M277.6 1598H282.6" stroke="#0070c0" stroke-width="1.05" fill="none"/>
<circle cx="280.1" cy="1583.2" r="3.25" fill="#ff0000"/>
<rect x="276.70000000000005" y="1588.6" width="6.8" height="6.8" fill="#0070c0"/>
<path d="M316.925 1597.5V1610.1M314.425 1597.5H319.425M314.425 1610.1H319.425" stroke="#ff0000" stroke-width="1.05" fill="none"/>
<path d="M316.925 1610.2V1620.8M314.425 1610.2H319.425M314.425 1620.8H319.425" stroke="#0070c0" stroke-width="1.05" fill="none"/>
<circle cx="316.925" cy="1603.8" r="3.25" fill="#ff0000"/>
<rect x="313.52500000000003" y="1612.1" width="6.8" height="6.8" fill="#0070c0"/>
<path d="M353.75 1619.7V1628.1000000000001M351.25 1619.7H356.25M351.25 1628.1000000000001H356.25" stroke="#ff0000" stroke-width="1.05" fill="none"/>
<path d="M353.75 1629.3V1641.8999999999999M351.25 1629.3H356.25M351.25 1641.8999999999999H356.25" stroke="#0070c0" stroke-width="1.05" fill="none"/>
<circle cx="353.75" cy="1623.9" r="3.25" fill="#ff0000"/>
<rect x="350.35" y="1632.1999999999998" width="6.8" height="6.8" fill="#0070c0"/>
<path d="M390.57500000000005 1636.5V1646.5M388.07500000000005 1636.5H393.07500000000005M388.07500000000005 1646.5H393.07500000000005" stroke="#ff0000" stroke-width="1.05" fill="none"/>
<path d="M390.57500000000005 1647.1000000000001V1656.7M388.07500000000005 1647.1000000000001H393.07500000000005M388.07500000000005 1656.7H393.07500000000005" stroke="#0070c0" stroke-width="1.05" fill="none"/>
<circle cx="390.57500000000005" cy="1641.5" r="3.25" fill="#ff0000"/>
<rect x="387.17500000000007" y="1648.5" width="6.8" height="6.8" fill="#0070c0"/>
<path d="M427.40000000000003 1661.0V1671.4M424.90000000000003 1661.0H429.90000000000003M424.90000000000003 1671.4H429.90000000000003" stroke="#ff0000" stroke-width="1.05" fill="none"/>
<path d="M427.40000000000003 1668.6V1676.6M424.90000000000003 1668.6H429.90000000000003M424.90000000000003 1676.6H429.90000000000003" stroke="#0070c0" stroke-width="1.05" fill="none"/>
<circle cx="427.40000000000003" cy="1666.2" r="3.25" fill="#ff0000"/>
<rect x="424.00000000000006" y="1669.1999999999998" width="6.8" height="6.8" fill="#0070c0"/>
<path d="M464.225 1685V1691M461.725 1685H466.725M461.725 1691H466.725" stroke="#ff0000" stroke-width="1.05" fill="none"/>
<path d="M464.225 1686.1V1692.1M461.725 1686.1H466.725M461.725 1692.1H466.725" stroke="#0070c0" stroke-width="1.05" fill="none"/>
<circle cx="464.225" cy="1688" r="3.25" fill="#ff0000"/>
<rect x="460.82500000000005" y="1685.6999999999998" width="6.8" height="6.8" fill="#0070c0"/>
<path d="M501.05 1689.5V1701.3000000000002M498.55 1689.5H503.55M498.55 1701.3000000000002H503.55" stroke="#ff0000" stroke-width="1.05" fill="none"/>
<path d="M501.05 1695.6999999999998V1708.5M498.55 1695.6999999999998H503.55M498.55 1708.5H503.55" stroke="#0070c0" stroke-width="1.05" fill="none"/>
<circle cx="501.05" cy="1695.4" r="3.25" fill="#ff0000"/>
<rect x="497.65000000000003" y="1698.6999999999998" width="6.8" height="6.8" fill="#0070c0"/>
<path d="M537.875 1698.6000000000001V1711.2M535.375 1698.6000000000001H540.375M535.375 1711.2H540.375" stroke="#ff0000" stroke-width="1.05" fill="none"/>
<path d="M537.875 1708.1999999999998V1724.0M535.375 1708.1999999999998H540.375M535.375 1724.0H540.375" stroke="#0070c0" stroke-width="1.05" fill="none"/>
<circle cx="537.875" cy="1704.9" r="3.25" fill="#ff0000"/>
<rect x="534.475" y="1712.6999999999998" width="6.8" height="6.8" fill="#0070c0"/>
<path d="M574.7 1709.1V1723.1M572.2 1709.1H577.2M572.2 1723.1H577.2" stroke="#ff0000" stroke-width="1.05" fill="none"/>
<path d="M574.7 1736.5V1746.5M572.2 1736.5H577.2M572.2 1746.5H577.2" stroke="#0070c0" stroke-width="1.05" fill="none"/>
<circle cx="574.7" cy="1716.1" r="3.25" fill="#ff0000"/>
<rect x="571.3000000000001" y="1738.1" width="6.8" height="6.8" fill="#0070c0"/>
<path d="M611.5250000000001 1717.5V1733.5M609.0250000000001 1717.5H614.0250000000001M609.0250000000001 1733.5H614.0250000000001" stroke="#ff0000" stroke-width="1.05" fill="none"/>
<path d="M611.5250000000001 1747.7V1757.7M609.0250000000001 1747.7H614.0250000000001M609.0250000000001 1757.7H614.0250000000001" stroke="#0070c0" stroke-width="1.05" fill="none"/>
<circle cx="611.5250000000001" cy="1725.5" r="3.25" fill="#ff0000"/>
<rect x="608.1250000000001" y="1749.3" width="6.8" height="6.8" fill="#0070c0"/>
<path d="M648.3500000000001 1725.7V1743.7M645.8500000000001 1725.7H650.8500000000001M645.8500000000001 1743.7H650.8500000000001" stroke="#ff0000" stroke-width="1.05" fill="none"/>
<path d="M648.3500000000001 1755.8V1765.8M645.8500000000001 1755.8H650.8500000000001M645.8500000000001 1765.8H650.8500000000001" stroke="#0070c0" stroke-width="1.05" fill="none"/>
<circle cx="648.3500000000001" cy="1734.7" r="3.25" fill="#ff0000"/>
<rect x="644.9500000000002" y="1757.3999999999999" width="6.8" height="6.8" fill="#0070c0"/>
<path d="M685.175 1748.2V1764.6000000000001M682.675 1748.2H687.675M682.675 1764.6000000000001H687.675" stroke="#ff0000" stroke-width="1.05" fill="none"/>
<path d="M685.175 1758.8V1772.8M682.675 1758.8H687.675M682.675 1772.8H687.675" stroke="#0070c0" stroke-width="1.05" fill="none"/>
<circle cx="685.175" cy="1756.4" r="3.25" fill="#ff0000"/>
<rect x="681.775" y="1762.3999999999999" width="6.8" height="6.8" fill="#0070c0"/>
<path d="M722.0 1748.1999999999998V1767.0M719.5 1748.1999999999998H724.5M719.5 1767.0H724.5" stroke="#ff0000" stroke-width="1.05" fill="none"/>
<path d="M722.0 1762.2V1776.3999999999999M719.5 1762.2H724.5M719.5 1776.3999999999999H724.5" stroke="#0070c0" stroke-width="1.05" fill="none"/>
<circle cx="722.0" cy="1757.6" r="3.25" fill="#ff0000"/>
<rect x="718.6" y="1765.8999999999999" width="6.8" height="6.8" fill="#0070c0"/>
</svg>
</body></html>
